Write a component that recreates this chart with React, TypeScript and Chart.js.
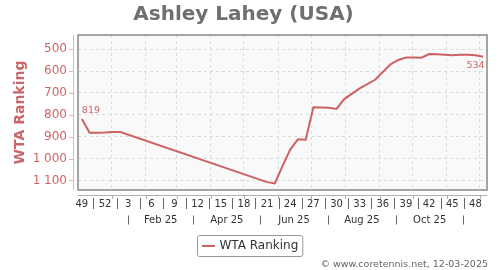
import React, { useEffect, useRef } from "react";
import { Chart, registerables } from "chart.js";

Chart.register(...registerables);
Chart.defaults.font.family = "'DejaVu Sans', sans-serif";

const chartTitle = "Ashley Lahey (USA)";
const seriesName = "WTA Ranking";
const creditText = "\u00a9 www.coretennis.net, 12-03-2025";

// x: week index, 0 = week 49 of 2024, one step per week
const rankWeeks = [0, 1, 2, 3, 4, 5, 24, 25, 26, 27, 28, 29, 30, 31, 32, 33, 34, 36, 38, 40, 41, 42, 43, 44, 45, 46, 47, 48, 49, 50, 51, 52];
const rankValues = [819, 882, 882, 881, 879, 879, 1108, 1114, 1035, 959, 912, 914, 766, 767, 768, 773, 728, 679, 640, 569, 549, 538, 538, 539, 522, 523, 525, 528, 525, 525, 528, 534];

const weekTickIndex = [0, 3, 6, 9, 12, 15, 18, 21, 24, 27, 30, 33, 36, 39, 42, 45, 48, 51];
const weekTickLabels = ["49", "52", "3", "6", "9", "12", "15", "18", "21", "24", "27", "30", "33", "36", "39", "42", "45", "48"];
const yTickValues = [500, 600, 700, 800, 900, 1000, 1100];

const axisStartDate = "2024-12-05";
const monthGridDates = ["2025-01-01", "2025-02-01", "2025-03-01", "2025-04-01", "2025-05-01", "2025-06-01", "2025-07-01", "2025-08-01", "2025-09-01", "2025-10-01", "2025-11-01", "2025-12-01"];
const groupSepDates = ["2025-01-16", "2025-03-16", "2025-05-16", "2025-07-16", "2025-09-16", "2025-11-16"];
const groupLabels = ["Feb 25", "Apr 25", "Jun 25", "Aug 25", "Oct 25"];

const toWeek = (d: string) => (Date.parse(d + "T00:00:00Z") - Date.parse(axisStartDate + "T00:00:00Z")) / (7 * 86400000);
const monthGridWeeks = monthGridDates.map(toWeek);
const groupSepWeeks = groupSepDates.map(toWeek);

const LINE = "#cc6262";
const RED_TEXT = "#cc6666";
const FONT = "'DejaVu Sans', sans-serif";

const fmt = (v: number) => String(v).replace(/\B(?=(\d{3})+(?!\d))/g, " ");

const decorPlugin = {
  id: "decor",
  beforeDraw(chart: any) {
    const { ctx, chartArea: a } = chart;
    ctx.save();
    ctx.fillStyle = "#ffffff";
    ctx.fillRect(0, 0, chart.width, chart.height);
    ctx.fillStyle = "#f9f9f9";
    ctx.fillRect(a.left, a.top, a.right - a.left, a.bottom - a.top);
    ctx.restore();
  },
  beforeDatasetsDraw(chart: any) {
    const { ctx, chartArea: a } = chart;
    ctx.save();
    ctx.strokeStyle = "#888888";
    ctx.lineWidth = 1.5;
    ctx.strokeRect(a.left, a.top, a.right - a.left, a.bottom - a.top);
    ctx.restore();
  },
  afterDraw(chart: any) {
    const { ctx, chartArea: a, scales } = chart;
    const xs = scales.x;
    const ys = scales.y;
    ctx.save();
    // y axis line + ticks
    ctx.strokeStyle = "#e2b6b6";
    ctx.lineWidth = 1;
    ctx.beginPath();
    ctx.moveTo(a.left - 4.5, a.top);
    ctx.lineTo(a.left - 4.5, a.bottom);
    yTickValues.forEach((v) => {
      const y = Math.round(ys.getPixelForValue(v)) + 0.5;
      ctx.moveTo(a.left - 9, y);
      ctx.lineTo(a.left - 4.5, y);
    });
    ctx.stroke();
    // x axis line + month ticks
    ctx.strokeStyle = "#b0b0b0";
    ctx.beginPath();
    ctx.moveTo(a.left, a.bottom + 5.5);
    ctx.lineTo(a.right, a.bottom + 5.5);
    monthGridWeeks.forEach((w) => {
      const x = Math.round(xs.getPixelForValue(w)) + 0.5;
      ctx.moveTo(x, a.bottom + 5.5);
      ctx.lineTo(x, a.bottom + 9);
    });
    ctx.stroke();
    // separators, first row
    ctx.strokeStyle = "#666666";
    ctx.beginPath();
    for (let i = 0; i < weekTickIndex.length - 1; i++) {
      const x = Math.round(xs.getPixelForValue((weekTickIndex[i] + weekTickIndex[i + 1]) / 2)) + 0.5;
      ctx.moveTo(x, a.bottom + 8);
      ctx.lineTo(x, a.bottom + 19);
    }
    // separators, second row
    groupSepWeeks.forEach((w) => {
      const x = Math.round(xs.getPixelForValue(w)) + 0.5;
      ctx.moveTo(x, a.bottom + 25.5);
      ctx.lineTo(x, a.bottom + 34.5);
    });
    ctx.stroke();
    // group labels
    ctx.fillStyle = "#333333";
    ctx.font = `10px ${FONT}`;
    ctx.textAlign = "center";
    ctx.textBaseline = "middle";
    groupLabels.forEach((t, i) => {
      const x = (xs.getPixelForValue(groupSepWeeks[i]) + xs.getPixelForValue(groupSepWeeks[i + 1])) / 2;
      ctx.fillText(t, x, a.bottom + 30);
    });
    // data labels
    const pts = chart.getDatasetMeta(0).data;
    ctx.fillStyle = RED_TEXT;
    ctx.font = `9.5px ${FONT}`;
    const p0 = pts[0];
    ctx.textAlign = "left";
    ctx.fillText(String(rankValues[0]), p0.x, p0.y - 8.5);
    const pn = pts[pts.length - 1];
    ctx.textAlign = "right";
    ctx.fillText(String(rankValues[rankValues.length - 1]), pn.x + 1.5, pn.y + 9);
    // legend
    ctx.font = `12px ${FONT}`;
    const tw = ctx.measureText(seriesName).width;
    const bw = 4.5 + 13 + 4.5 + tw + 4.5;
    const bx = Math.round(chart.width / 2 - bw / 2) + 0.5;
    const by = 235.5;
    const bh = 21;
    ctx.fillStyle = "#ffffff";
    ctx.strokeStyle = "#999999";
    ctx.lineWidth = 1;
    ctx.beginPath();
    (ctx as any).roundRect ? (ctx as any).roundRect(bx, by, bw, bh, 2) : ctx.rect(bx, by, bw, bh);
    ctx.fill();
    ctx.stroke();
    ctx.strokeStyle = LINE;
    ctx.lineWidth = 2;
    ctx.beginPath();
    ctx.moveTo(bx + 4.5, by + 10.5);
    ctx.lineTo(bx + 17.5, by + 10.5);
    ctx.stroke();
    ctx.fillStyle = "#333333";
    ctx.textAlign = "left";
    ctx.textBaseline = "middle";
    ctx.fillText(seriesName, bx + 22, by + 10.5);
    // credit
    ctx.fillStyle = "#666666";
    ctx.font = `9.5px ${FONT}`;
    ctx.textAlign = "right";
    ctx.fillText(creditText, chart.width - 12, 265);
    ctx.restore();
  },
};

export default function App() {
  const ref = useRef<HTMLCanvasElement | null>(null);
  useEffect(() => {
    if (!ref.current) return;
    const chart = new Chart(ref.current, {
      type: "line",
      data: {
        datasets: [
          {
            label: seriesName,
            data: rankWeeks.map((w, i) => ({ x: w, y: rankValues[i] })),
            borderColor: LINE,
            backgroundColor: LINE,
            borderWidth: 2,
            pointRadius: 0,
            tension: 0,
            xAxisID: "x",
            yAxisID: "y",
          },
        ],
      },
      options: {
        responsive: false,
        animation: false,
        layout: { padding: { left: 0, right: 13, top: 0, bottom: 0 } },
        plugins: {
          legend: { display: false },
          tooltip: { enabled: false },
          title: {
            display: true,
            text: chartTitle,
            color: "#6f6f6f",
            font: { size: 20, weight: "bold", family: FONT },
            padding: { top: 2.5, bottom: 8.5 },
          },
        },
        scales: {
          x: {
            type: "linear",
            position: "bottom",
            min: -0.5,
            max: 52.5,
            afterBuildTicks: (s: any) => {
              s.ticks = weekTickIndex.map((v) => ({ value: v }));
            },
            afterFit: (s: any) => {
              s.height = 80;
            },
            ticks: {
              autoSkip: false,
              maxRotation: 0,
              color: "#333333",
              font: { size: 10, family: FONT },
              padding: 8,
              callback: (_v: any, i: number) => weekTickLabels[i],
            },
            grid: { display: false, drawTicks: false },
            border: { display: false },
          },
          xm: {
            type: "linear",
            position: "top",
            min: -0.5,
            max: 52.5,
            afterBuildTicks: (s: any) => {
              s.ticks = monthGridWeeks.map((v) => ({ value: v }));
            },
            afterFit: (s: any) => {
              s.height = 0;
            },
            ticks: { display: false },
            grid: { color: "#dcdcdc", lineWidth: 1, drawTicks: false },
            border: { display: false, dash: [3, 3] },
          },
          y: {
            type: "linear",
            position: "left",
            reverse: true,
            min: 435,
            max: 1144,
            afterBuildTicks: (s: any) => {
              s.ticks = yTickValues.map((v) => ({ value: v }));
            },
            afterFit: (s: any) => {
              s.width = 78;
            },
            ticks: {
              color: RED_TEXT,
              font: { size: 12, family: FONT },
              padding: 11,
              callback: (v: any) => fmt(Number(v)),
            },
            grid: { color: "#dcdcdc", lineWidth: 1, drawTicks: false },
            border: { display: false, dash: [3, 3] },
            title: {
              display: true,
              text: seriesName,
              color: RED_TEXT,
              font: { size: 14, weight: "bold", family: FONT },
              padding: { top: 11.5, bottom: 0 },
            },
          },
        },
      } as any,
      plugins: [decorPlugin],
    });
    return () => chart.destroy();
  }, []);
  return (
    <div style={{ position: "absolute", left: 0, top: 0, width: 500, height: 270 }}>
      <canvas ref={ref} width={500} height={270} />
    </div>
  );
}
